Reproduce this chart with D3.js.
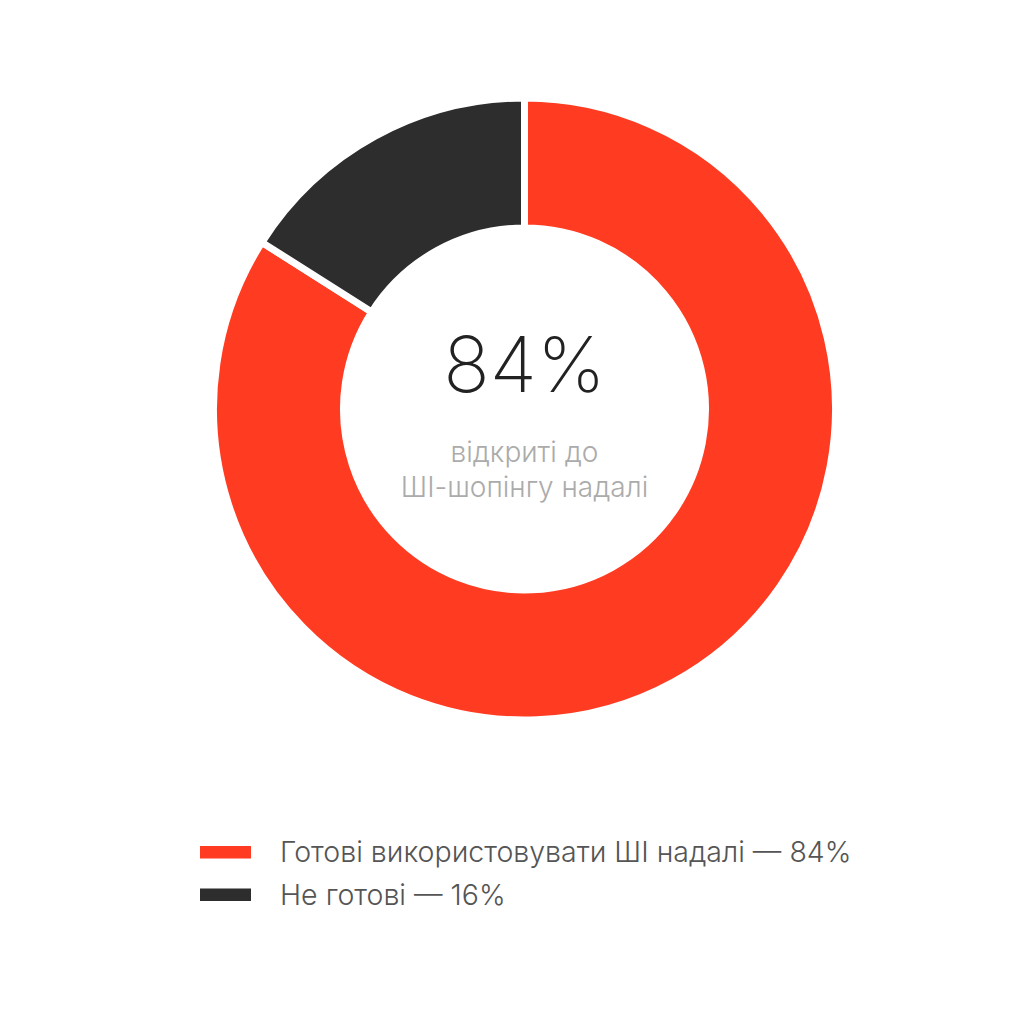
<!DOCTYPE html>
<html>
<head>
<meta charset="utf-8">
<script src="https://cdn.jsdelivr.net/npm/d3@7"></script>
<style>
  html, body { margin: 0; padding: 0; background: #fff; }
  text { font-family: Inter, "Noto Sans", sans-serif; }
</style>
</head>
<body>
<svg id="chart"></svg>
<script>
var width = 1024;
var height = 1024;

// data
var categories = ['Готові використовувати ШІ надалі', 'Не готові'];
var values = [84, 16];
var colors = ['#ff3b21', '#2d2d2d'];
var centerValue = '84%';
var centerLabel = ['відкриті до', 'ШІ-шопінгу надалі'];

var cx = 524.5, cy = 409;
var outerR = 311, innerR = 181;

var svg = d3.select('#chart')
  .attr('width', width)
  .attr('height', height);

var pie = d3.pie().sort(null).value(function(d){ return d; });
var arc = d3.arc().innerRadius(innerR).outerRadius(outerR);

var g = svg.append('g').attr('transform', 'translate(' + cx + ',' + cy + ')');

g.selectAll('path')
  .data(pie(values))
  .enter()
  .append('path')
  .attr('d', arc)
  .attr('fill', function(d, i){ return colors[i]; })
  .attr('stroke', '#fff')
  .attr('stroke-width', 7)
  .attr('stroke-linejoin', 'miter');

// centre text
g.append('text')
  .attr('x', 0).attr('y', -17)
  .attr('text-anchor', 'middle')
  .attr('font-size', 77)
  .attr('font-weight', 200)
  .attr('fill', '#222')
  .text(centerValue);

g.selectAll('.sub')
  .data(centerLabel)
  .enter()
  .append('text')
  .attr('class', 'sub')
  .attr('x', 0)
  .attr('y', function(d, i){ return 53 + i * 35; })
  .attr('text-anchor', 'middle')
  .attr('font-size', 28)
  .attr('font-weight', 300)
  .attr('fill', '#ababab')
  .text(function(d){ return d; });

// legend
var legend = svg.append('g').attr('transform', 'translate(200,846)');
var item = legend.selectAll('g')
  .data(categories)
  .enter()
  .append('g')
  .attr('transform', function(d, i){ return 'translate(0,' + (i * 42.5) + ')'; });

item.append('rect')
  .attr('width', 51)
  .attr('height', 12.5)
  .attr('fill', function(d, i){ return colors[i]; });

item.append('text')
  .attr('x', 80)
  .attr('y', 16)
  .attr('font-size', 28.5)
  .attr('font-weight', 300)
  .attr('fill', '#555')
  .text(function(d, i){ return d + ' — ' + values[i] + '%'; });
</script>
</body>
</html>
